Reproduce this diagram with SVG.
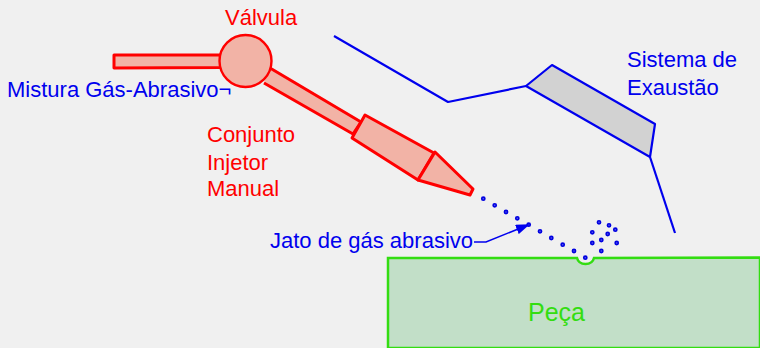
<svg xmlns="http://www.w3.org/2000/svg" width="760" height="348" viewBox="0 0 760 348">
<style>
text{font-family:"Liberation Sans",Arial,sans-serif;font-size:22px}
.r{fill:#f00}.b{fill:#00e}
.inj{fill:#f2b3a6;stroke:#f00;stroke-width:3;stroke-linejoin:round}
.ln{fill:none;stroke:#00e;stroke-width:2.200;stroke-linejoin:round}
.d{fill:#5a5af0;stroke:#0000e0;stroke-width:1.600}
</style>
<defs><marker id="ah" markerWidth="14" markerHeight="10" refX="12" refY="5" orient="auto" markerUnits="userSpaceOnUse"><path d="M0 0L14 5L0 10Z" fill="#00e"/></marker></defs>
<rect width="760" height="348" fill="#f0f0f0"/>
<g id="peca">
<path d="M388 348V258H577C578 262 580 264 585.500 264C591 264 593 262 594 258L760 257.500V348Z" fill="#c2dfc8" stroke="#33dd11" stroke-width="2.500"/>
<text x="528" y="321" style="font-size:25px" fill="#33dd11">Peça</text>
</g>
<g id="injetor">
<path class="inj" d="M114 55H222V67.500L114 68Z"/>
<path class="inj" d="M270 68L361 122L353 134L264 83"/>
<path class="inj" d="M365 115L434 153L418 180L352 138Z"/>
<path class="inj" d="M435 152L473 189L470 195L418 180Z"/>
<text class="r"><tspan x="207" y="142">Conjunto</tspan><tspan x="207" y="170">Injetor</tspan><tspan x="207" y="196">Manual</tspan></text>
</g>
<g id="valvula">
<circle class="inj" cx="245.500" cy="61" r="26" style="stroke-width:2.400"/>
<text class="r" x="225" y="25">Válvula</text>
</g>
<g id="exaustao">
<path d="M526 86L552 65L655 124L650 157Z" fill="#d2d2d2" stroke="#00e" stroke-width="2.200" stroke-linejoin="round"/>
<path class="ln" d="M334 36L448 102L526 86"/>
<path class="ln" d="M650 157L675 233"/>
<text class="b"><tspan x="627" y="67">Sistema de</tspan><tspan x="627" y="95">Exaustão</tspan></text>
</g>
<g id="mistura"><text class="b" x="7" y="97">Mistura Gás-Abrasivo¬</text></g>
<g id="jato">
<text class="b" x="270" y="248">Jato de gás abrasivo</text>
<g class="d">
<circle cx="483.300" cy="198.700" r="1.600"/><circle cx="494.700" cy="205.300" r="1.600"/><circle cx="506" cy="212" r="1.600"/><circle cx="517.300" cy="218.300" r="1.600"/><circle cx="528.700" cy="224.700" r="1.600"/><circle cx="540" cy="231.300" r="1.600"/><circle cx="551.300" cy="238" r="1.600"/><circle cx="562.700" cy="244.700" r="1.600"/><circle cx="574" cy="251" r="1.600"/><circle cx="585.300" cy="257.700" r="1.600"/>
<circle cx="599" cy="222.300" r="1.600"/><circle cx="609" cy="225.300" r="1.600"/><circle cx="615.300" cy="229.700" r="1.600"/><circle cx="592.300" cy="232.300" r="1.600"/><circle cx="607.700" cy="234" r="1.600"/><circle cx="601.300" cy="240" r="1.600"/><circle cx="592.300" cy="243" r="1.600"/><circle cx="616.700" cy="243" r="1.600"/><circle cx="601.300" cy="251" r="1.600"/>
</g>
</g>
<g id="connectors">
<path d="M474 242H486L528 225" fill="none" stroke="#00e" stroke-width="1.500" marker-end="url(#ah)"/>
</g>
</svg>
